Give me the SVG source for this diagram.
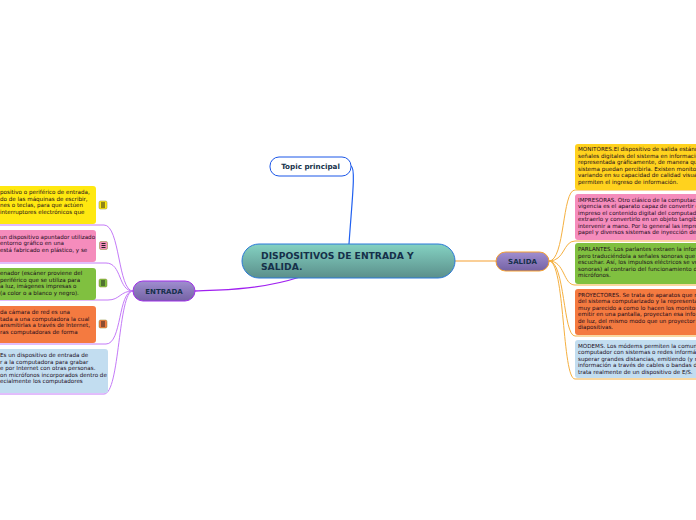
<svg xmlns="http://www.w3.org/2000/svg" width="696" height="520" viewBox="0 0 696 520">
<defs>
<linearGradient id="gc" x1="0" y1="0" x2="0" y2="1"><stop offset="0" stop-color="#84d2c2"/><stop offset="1" stop-color="#5b8f8b"/></linearGradient>
<linearGradient id="gp" x1="0" y1="0" x2="0" y2="1"><stop offset="0" stop-color="#a08ed0"/><stop offset="1" stop-color="#7462a4"/></linearGradient>
<style>
text{font-family:"DejaVu Sans","Verdana",sans-serif;}
.leaf{font-size:5.6px;fill:#1a0a1a;}
.node{font-weight:bold;fill:#15304a;}
.cl{fill:none;stroke:#c47af8;stroke-width:1;}
.cr{fill:none;stroke:#f5b040;stroke-width:1;}
.ic{stroke:#222;stroke-width:1;}
.ib{stroke:#8a8a30;stroke-width:0.5;}
</style>
</defs>
<g id="connectors">
<path d="M351,166 C356,168 352,200 349,244" fill="none" stroke="#2060f0" stroke-width="1.2"/>
<path d="M300,277 C260,290 220,290 195,291" fill="none" stroke="#a020f0" stroke-width="1.3"/>
<path d="M455,261 L496,261" fill="none" stroke="#f5a030" stroke-width="1.2"/>
<path class="cl" d="M133,291 C118,291 120,225 104,225 L0,225"/>
<path class="cl" d="M133,291 C118,291 122,263 106,263 L0,263"/>
<path class="cl" d="M133,291 C120,291 120,300 108,300 L0,300"/>
<path class="cl" d="M133,291 C118,291 122,344 106,344 L0,344"/>
<path class="cl" d="M133,291 C118,291 120,394 104,394 L0,394"/>
<path class="cr" d="M549,261 C565,261 562,190 575,190 L696,190"/>
<path class="cr" d="M549,261 C565,261 563,241 575,241 L696,241"/>
<path class="cr" d="M549,261 C565,261 563,285 575,285 L696,285"/>
<path class="cr" d="M549,261 C565,261 563,336 575,336 L696,336"/>
<path class="cr" d="M549,261 C565,261 562,379 575,379 L696,379"/>
</g>
<g id="topic">
<rect x="270" y="157" width="81" height="19" rx="9" fill="#fff" stroke="#1a56e8" stroke-width="1"/>
<text class="node" x="310.5" y="169" font-size="7.2" text-anchor="middle">Topic principal</text>
</g>
<g id="central">
<rect x="242" y="244" width="213" height="34" rx="17" fill="url(#gc)" stroke="#2a78d8" stroke-width="1"/>
<text class="node" x="261" y="259" font-size="9.2">DISPOSITIVOS DE ENTRADA Y</text>
<text class="node" x="261" y="270" font-size="9.2">SALIDA.</text>
</g>
<g id="entrada">
<rect x="133" y="281" width="62" height="20" rx="10" fill="url(#gp)" stroke="#a030e8" stroke-width="1"/>
<text class="node" x="164" y="294" font-size="7" text-anchor="middle">ENTRADA</text>
</g>
<g id="salida">
<rect x="496" y="252" width="53" height="19" rx="9.5" fill="url(#gp)" stroke="#f5a030" stroke-width="1"/>
<text class="node" x="522.5" y="264" font-size="7" text-anchor="middle">SALIDA</text>
</g>
<g id="e1">
<rect x="-10" y="186" width="106" height="38" rx="3" fill="#ffe810"/>
<text class="leaf"><tspan x="0" y="194">positivo o periférico de entrada,</tspan><tspan x="0" y="200.5">do de las máquinas de escribir,</tspan><tspan x="0" y="207">nes o teclas, para que actúen</tspan><tspan x="0" y="213.5">interruptores electrónicos que</tspan></text>
<rect x="99" y="201" width="8" height="8" rx="1.5" fill="#ffe810" class="ib"/>
<path class="ic" d="M101,203 H105 M101,205 H105 M101,207 H105"/>
</g>
<g id="e2">
<rect x="-10" y="230" width="106" height="32" rx="3" fill="#f58cbc"/>
<text class="leaf"><tspan x="0" y="238.5">un dispositivo apuntador utilizado</tspan><tspan x="0" y="245">entorno gráfico en una</tspan><tspan x="0" y="251.5">está fabricado en plástico, y se</tspan></text>
<rect x="99.5" y="241.5" width="8" height="8" rx="1.5" fill="#f58cbc" class="ib"/>
<path class="ic" d="M101.5,243.5 H105.5 M101.5,245.5 H105.5 M101.5,247.5 H105.5"/>
</g>
<g id="e3">
<rect x="-10" y="268" width="106" height="32" rx="3" fill="#80c040"/>
<text class="leaf"><tspan x="0" y="275">enador (escáner proviene del</tspan><tspan x="0" y="281.5">periférico que se utiliza para</tspan><tspan x="0" y="288">a luz, imágenes impresas o</tspan><tspan x="0" y="294.5">(a color o a blanco y negro).</tspan></text>
<rect x="99" y="279" width="8" height="8" rx="1.5" fill="#80c040" class="ib"/>
<path class="ic" d="M101,281 H105 M101,283 H105 M101,285 H105"/>
</g>
<g id="e4">
<rect x="-10" y="306" width="106" height="37" rx="3" fill="#f47a40"/>
<text class="leaf"><tspan x="0" y="314">da cámara de red es una</tspan><tspan x="0" y="320.5">tada a una computadora la cual</tspan><tspan x="0" y="327">ansmitirlas a través de Internet,</tspan><tspan x="0" y="333.5">ras computadoras de forma</tspan></text>
<rect x="99" y="320" width="8" height="8" rx="1.5" fill="#f47a40" class="ib"/>
<path class="ic" d="M101,322 H105 M101,324 H105 M101,326 H105"/>
</g>
<g id="e5">
<rect x="-10" y="349" width="118" height="44" rx="3" fill="#c2ddf0"/>
<text class="leaf"><tspan x="0" y="357">Es un dispositivo de entrada de</tspan><tspan x="0" y="363.5">r a la computadora para grabar</tspan><tspan x="0" y="370">e por Internet con otras personas.</tspan><tspan x="0" y="376.5">on micrófonos incorporados dentro de</tspan><tspan x="0" y="383">ecialmente los computadores</tspan></text>
</g>
<g id="s1">
<rect x="575" y="144" width="130" height="46" rx="3" fill="#ffd21e"/>
<text class="leaf"><tspan x="578" y="151">MONITORES.El dispositivo de salida estánd</tspan><tspan x="578" y="157.5">señales digitales del sistema en informació</tspan><tspan x="578" y="164">representada gráficamente, de manera qu</tspan><tspan x="578" y="170.5">sistema puedan percibirla. Existen monitor</tspan><tspan x="578" y="177">variando en su capacidad de calidad visual</tspan><tspan x="578" y="183.5">permiten el ingreso de información.</tspan></text>
</g>
<g id="s2">
<rect x="575" y="194" width="130" height="46" rx="3" fill="#f58cbc"/>
<text class="leaf"><tspan x="578" y="201.5">IMPRESORAS. Otro clásico de la computac</tspan><tspan x="578" y="208">vigencia es el aparato capaz de convertir e</tspan><tspan x="578" y="214.5">impreso el contenido digital del computad</tspan><tspan x="578" y="221">extraerlo y convertirlo en un objeto tangib</tspan><tspan x="578" y="227.5">intervenir a mano. Por lo general las impre</tspan><tspan x="578" y="234">papel y diversos sistemas de inyección de</tspan></text>
</g>
<g id="s3">
<rect x="575" y="243" width="130" height="41" rx="3" fill="#80c040"/>
<text class="leaf"><tspan x="578" y="251">PARLANTES. Los parlantes extraen la infor</tspan><tspan x="578" y="257.5">pero traduciéndola a señales sonoras que</tspan><tspan x="578" y="264">escuchar. Así, los impulsos eléctricos se vu</tspan><tspan x="578" y="270.5">sonoras) al contrario del funcionamiento d</tspan><tspan x="578" y="277">micrófonos.</tspan></text>
</g>
<g id="s4">
<rect x="575" y="289" width="130" height="46" rx="3" fill="#f47a40"/>
<text class="leaf"><tspan x="578" y="296.5">PROYECTORES. Se trata de aparatos que r</tspan><tspan x="578" y="303">del sistema computarizado y la representa</tspan><tspan x="578" y="309.5">muy parecido a como lo hacen los monitor</tspan><tspan x="578" y="316">emitir en una pantalla, proyectan esa info</tspan><tspan x="578" y="322.5">de luz, del mismo modo que un proyector</tspan><tspan x="578" y="329">diapositivas.</tspan></text>
</g>
<g id="s5">
<rect x="575" y="340" width="130" height="38" rx="3" fill="#c2ddf0"/>
<text class="leaf"><tspan x="578" y="347.5">MODEMS. Los módems permiten la comuni</tspan><tspan x="578" y="354">computador con sistemas o redes informá</tspan><tspan x="578" y="360.5">superar grandes distancias, emitiendo (y r</tspan><tspan x="578" y="367">información a través de cables o bandas d</tspan><tspan x="578" y="373.5">trata realmente de un dispositivo de E/S.</tspan></text>
</g>
</svg>
